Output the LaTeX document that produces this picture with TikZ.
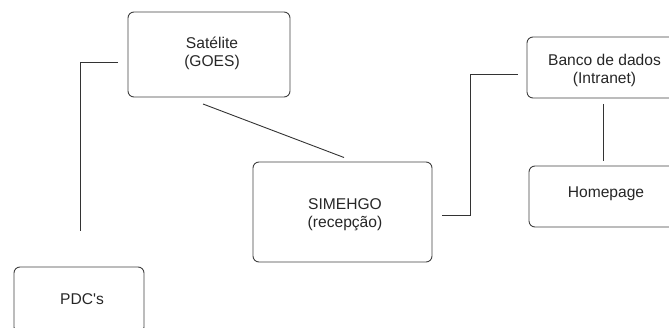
\documentclass[tikz,border=0pt]{standalone}
\usepackage{fontspec}
\setmainfont{Liberation Sans}[Ligatures=TeXOff]
\begin{document}
\begin{tikzpicture}[x=1pt,y=-1pt,
  box/.style={draw=black!75, line width=0.9pt, rounded corners=6pt, inner sep=0pt,
    font=\fontsize{15.6}{18}\selectfont, text=black!85, align=center},
  link/.style={draw=black!80, line width=0.9pt}]
\useasboundingbox (0,0) rectangle (669,328);
\clip (0,0) rectangle (669,328);
% boxes
\node[box, minimum width=162pt, minimum height=85pt] (sat) at (209,54.5) {};
\node[box, minimum width=130pt, minimum height=66pt] (pdc) at (79,300) {};
\node[box, minimum width=179pt, minimum height=100pt] (sim) at (342.5,212) {};
\node[box, minimum width=155pt, minimum height=61pt] (ban) at (604.5,67.5) {};
\node[box, minimum width=151pt, minimum height=61pt] (hom) at (604.5,196.5) {};
% texts
\node[box, draw=none] (satt) at (212,53) {Satélite\\(GOES)};
\node[box, draw=none] (pdct) at (82,299) {PDC's};
\node[box, draw=none] (simt) at (345,215) {SIMEHGO\\(recepção)};
\node[box, draw=none] (bant) at (604.5,70) {Banco de dados\\(Intranet)};
\node[box, draw=none] (homt) at (606,194) {Homepage};
% connector end points
\coordinate (a1) at (118,62.7);
\coordinate (a2) at (80,231);
\coordinate (b1) at (203,104);
\coordinate (b2) at (344,157.5);
\coordinate (c1) at (442,215);
\coordinate (c2) at (518,74);
\coordinate (d1) at (603,104);
\coordinate (d2) at (603,161);
% connectors
\draw[link] (a1) -| (a2);
\draw[link] (b1) -- (b2);
\draw[link] (c1) -- (470,215) |- (c2);
\draw[link] (d1) -- (d2);
\end{tikzpicture}
\end{document}
